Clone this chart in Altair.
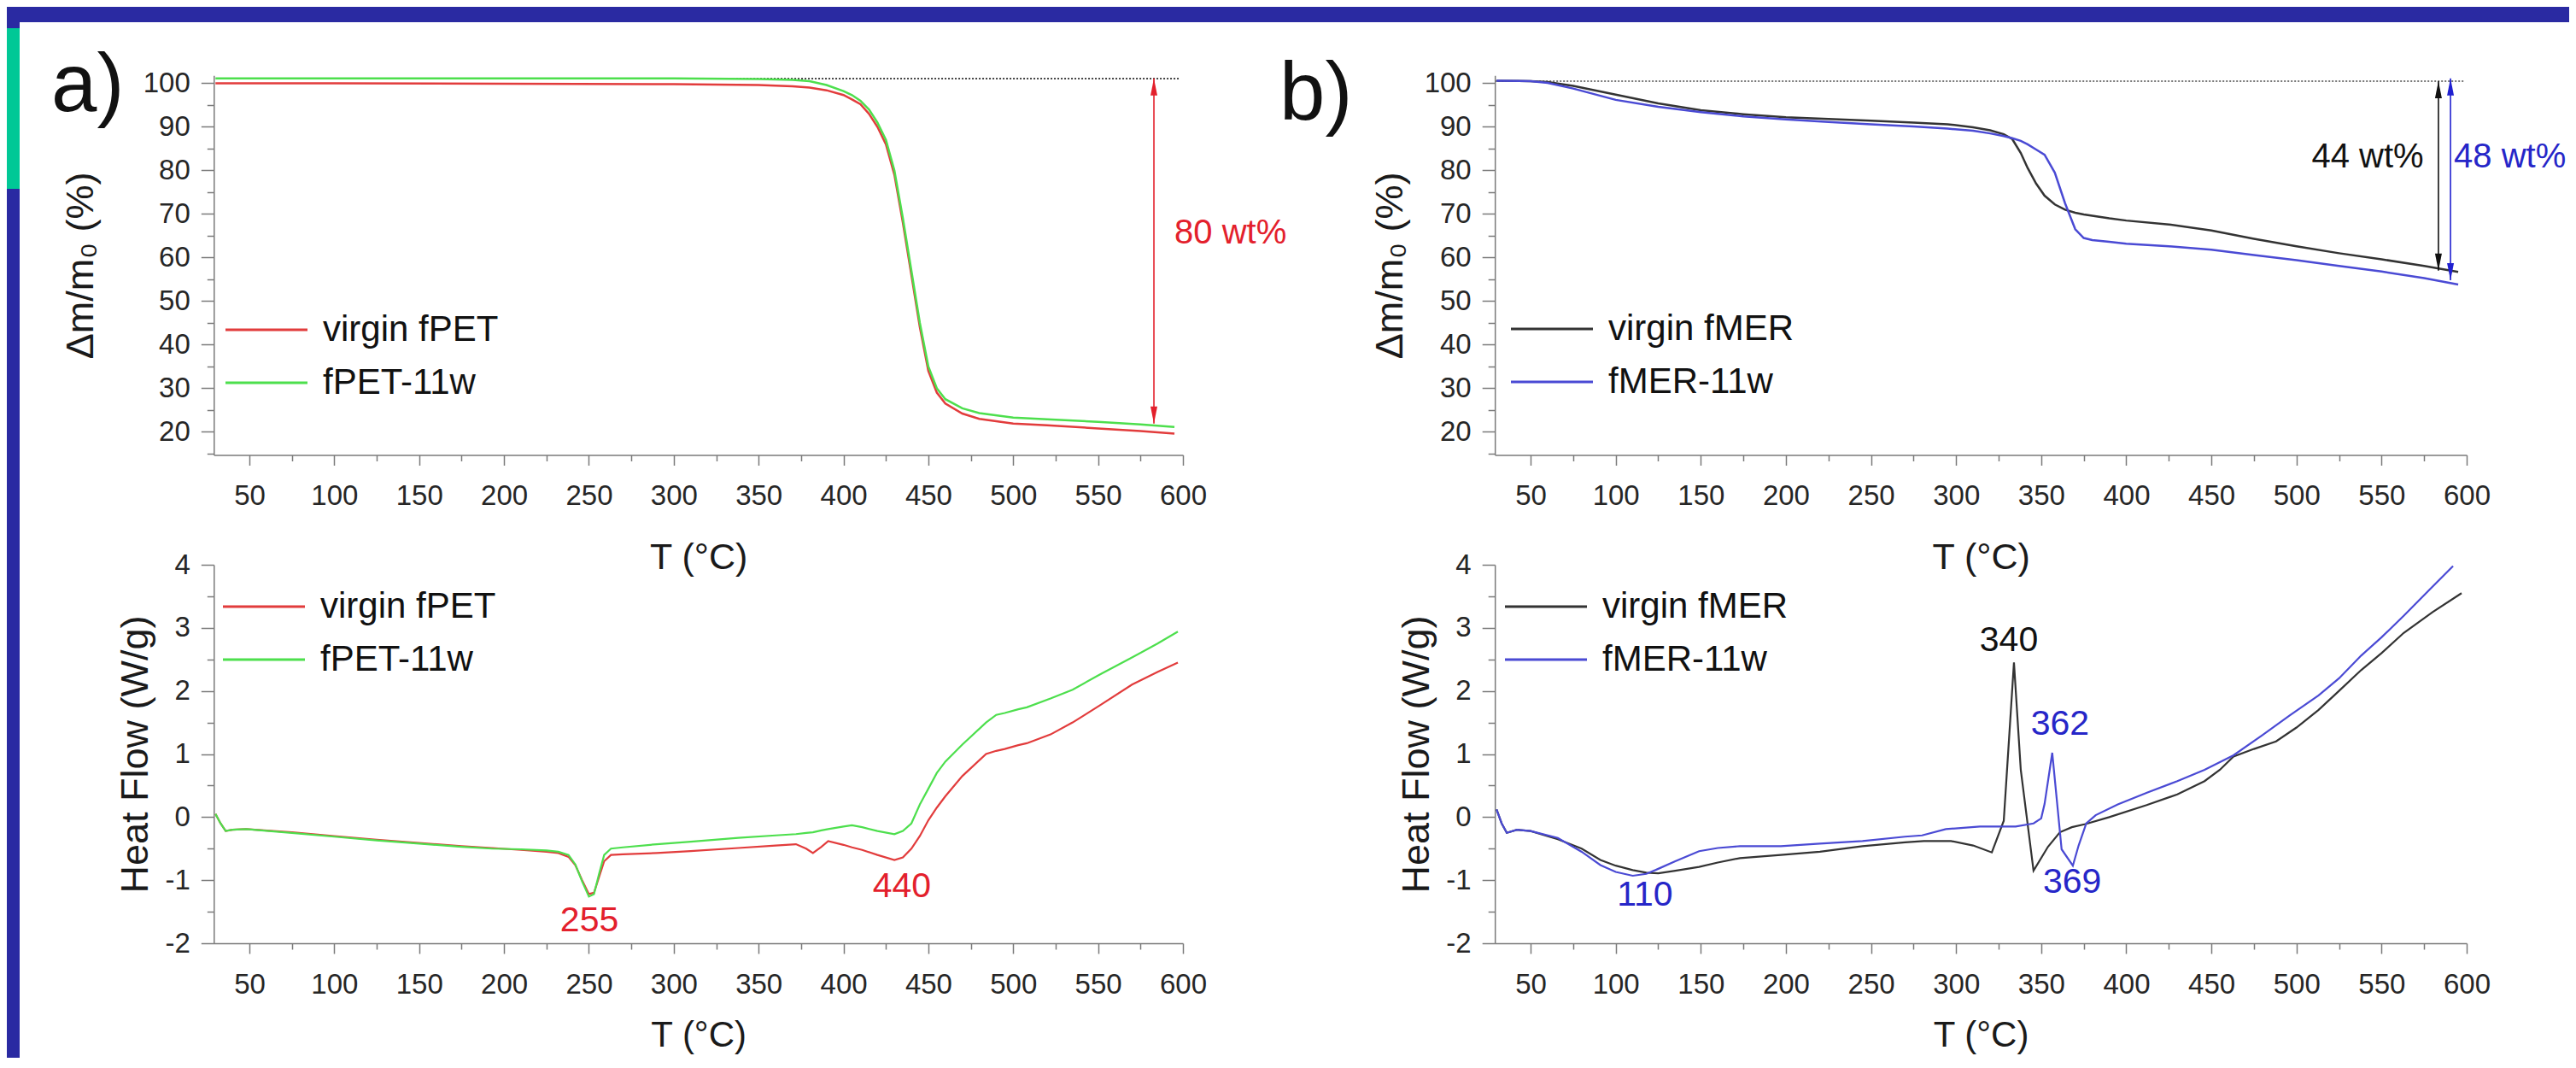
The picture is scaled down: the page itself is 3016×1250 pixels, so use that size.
import altair as alt
import pandas as pd

FONT = "Liberation Sans"
W, H = 3000, 1230

# ---------------- data ----------------
SERIES_PET = ["virgin fPET", "fPET-11w"]
SERIES_MER = ["virgin fMER", "fMER-11w"]

# a) top: TGA fPET
TGA_PET_T = [30, 100, 200, 300, 350, 370, 380, 390, 400, 405, 410, 415, 420, 425, 430, 435, 440, 445,
             450, 455, 460, 470, 480, 500, 520, 550, 575, 595]
TGA_PET_VIRGIN = [100.0, 100.0, 99.9, 99.8, 99.6, 99.3, 99.0, 98.4, 97.3, 96.3, 95.2, 93.0, 90.0, 86.0,
                  79.0, 68.0, 56.0, 44.0, 34.0, 29.0, 26.5, 24.2, 23.0, 21.9, 21.5, 20.8, 20.2, 19.6]
TGA_PET_11W = [101.1, 101.1, 101.1, 101.1, 101.0, 100.8, 100.5, 99.6, 98.2, 97.3, 96.0, 94.0, 91.0, 87.0,
               80.0, 69.0, 57.0, 45.0, 35.0, 30.0, 27.5, 25.4, 24.3, 23.3, 22.9, 22.3, 21.7, 21.1]

# b) top: TGA fMER
TGA_MER_T = [30, 50, 60, 75, 100, 125, 150, 175, 200, 225, 250, 275, 295, 310, 320, 328, 333, 338, 342,
             347, 352, 358, 364, 370, 375, 380, 390, 400, 425, 450, 475, 500, 525, 550, 575, 595]
TGA_MER_VIRGIN = [100.6, 100.5, 100.3, 99.4, 97.4, 95.4, 93.8, 92.9, 92.2, 91.8, 91.4, 91.0, 90.6, 89.9,
                  89.2, 88.3, 87.2, 84.0, 80.6, 77.0, 74.2, 72.2, 71.0, 70.3, 69.9, 69.6, 69.0, 68.5,
                  67.6, 66.2, 64.3, 62.6, 61.0, 59.6, 58.1, 56.7]
TGA_MER_11W = [100.6, 100.5, 100.1, 98.8, 96.2, 94.6, 93.4, 92.4, 91.7, 91.1, 90.6, 90.1, 89.6, 89.1,
               88.5, 87.9, 87.4, 86.8, 86.0, 84.8, 83.6, 79.5, 72.5, 66.5, 64.5, 64.0, 63.6, 63.2,
               62.6, 61.8, 60.6, 59.4, 58.1, 56.8, 55.3, 53.8]

# a) bottom: DSC fPET
DSC_PET_T = [30, 33, 36, 40, 48, 75, 100, 125, 150, 175, 193, 210, 225, 232, 238, 242, 246, 250, 253, 256,
             259, 263, 270, 290, 310, 338, 360, 372, 378, 382, 387, 391, 400, 405, 411, 420, 430, 435, 440,
             445, 450, 455, 460, 470, 484, 490, 495, 503, 508, 522, 535, 551, 570, 585, 597]
DSC_PET_VIRGIN = [0.05, -0.10, -0.22, -0.20, -0.19, -0.24, -0.30, -0.36, -0.41, -0.46,
                  -0.49, -0.52, -0.55, -0.57, -0.63, -0.76, -1.00, -1.22, -1.20, -0.95,
                  -0.70, -0.60, -0.59, -0.57, -0.54, -0.49, -0.45, -0.43, -0.50, -0.57,
                  -0.47, -0.38, -0.44, -0.48, -0.52, -0.60, -0.68, -0.64, -0.50, -0.30,
                  -0.05, 0.15, 0.33, 0.65, 1.00, 1.05, 1.08, 1.14, 1.17, 1.31,
                  1.50, 1.77, 2.10, 2.30, 2.45]
DSC_PET_11W = [0.05, -0.10, -0.22, -0.20, -0.19, -0.25, -0.31, -0.37, -0.42, -0.47,
               -0.50, -0.51, -0.53, -0.55, -0.60, -0.75, -1.02, -1.26, -1.22, -0.90,
               -0.60, -0.50, -0.48, -0.43, -0.39, -0.33, -0.29, -0.27, -0.25, -0.24,
               -0.21, -0.19, -0.15, -0.13, -0.16, -0.22, -0.27, -0.22, -0.10, 0.20,
               0.45, 0.70, 0.88, 1.15, 1.50, 1.62, 1.65, 1.71, 1.74, 1.88,
               2.02, 2.26, 2.53, 2.75, 2.94]

# b) bottom: DSC fMER
DSC_MER_VIRGIN_T = [30, 33, 36, 42, 50, 66, 80, 91, 100, 110, 118, 125, 135, 149, 160, 173, 197, 220, 245,
                    270, 281, 297, 310, 321, 328, 334, 338, 345.5, 354, 361, 368, 376, 390, 412, 430, 446,
                    455, 463, 475, 488, 500, 513, 525, 538, 550, 563, 580, 597]
DSC_MER_VIRGIN = [0.12, -0.10, -0.25, -0.20, -0.22, -0.35, -0.50, -0.68, -0.77, -0.84,
                  -0.88, -0.89, -0.85, -0.79, -0.72, -0.65, -0.60, -0.55, -0.46, -0.40,
                  -0.38, -0.38, -0.45, -0.56, -0.06, 2.45, 0.75, -0.85, -0.47, -0.24,
                  -0.16, -0.11, 0.00, 0.19, 0.36, 0.57, 0.75, 0.96, 1.08, 1.20,
                  1.42, 1.70, 2.00, 2.33, 2.60, 2.92, 3.25, 3.55]
DSC_MER_11W_T = [30, 33, 36, 42, 50, 66, 80, 91, 100, 110, 118, 125, 135, 149, 160, 173, 197, 220, 245,
                 270, 280, 294, 314, 335, 345.5, 350, 352, 356.5, 362, 368.6, 372, 376.5, 382, 395, 412.5,
                 430, 446, 463, 480, 496, 513, 525, 538, 550, 563, 578, 592]
DSC_MER_11W = [0.12, -0.10, -0.25, -0.20, -0.22, -0.33, -0.55, -0.76, -0.87, -0.93,
               -0.90, -0.82, -0.70, -0.54, -0.49, -0.46, -0.46, -0.42, -0.38, -0.31,
               -0.29, -0.19, -0.15, -0.15, -0.10, -0.02, 0.21, 1.02, -0.51, -0.77,
               -0.45, -0.10, 0.03, 0.20, 0.39, 0.57, 0.75, 0.98, 1.30, 1.61,
               1.93, 2.20, 2.56, 2.85, 3.19, 3.60, 3.98]

# axis ticks (major = labelled, minor = unlabelled)
X_MAJOR = list(range(50, 601, 50))
X_MINOR = list(range(75, 576, 50))
Y_MAJOR_TGA = list(range(20, 101, 10))
Y_MINOR_TGA = list(range(15, 96, 10))
Y_MAJOR_DSC = [-2, -1, 0, 1, 2, 3, 4]
Y_MINOR_DSC = [-1.5, -0.5, 0.5, 1.5, 2.5, 3.5]
X_DOMAIN = [29, 600]
Y_DOMAIN_TGA = [14.7, 101.8]
Y_DOMAIN_DSC = [-2, 4]

# annotations (data coordinates)
REF_A = {"T": [328.8], "T2": [597.5], "v": [101.05]}
ARROW_A = {"T": [582.9], "top": [101.1], "bot": [21.9]}
TEXT_A_TOP = {"T": [595.0], "v": [65.6], "label": ["80 wt%"]}

REF_B = {"T": [29.0], "T2": [599.0], "v": [100.5]}
ARROW_B_BLACK = {"T": [583.4], "top": [100.5], "bot": [57.0]}
ARROW_B_BLUE = {"T": [590.5], "top": [101.1], "bot": [54.8]}
TEXT_B_BLACK = {"T": [541.8], "v": [83.0], "label": ["44 wt%"]}
TEXT_B_BLUE = {"T": [592.5], "v": [83.0], "label": ["48 wt%"]}

PEAKS_A = {"T": [250.3, 434.4], "v": [-1.65, -1.11], "label": ["255", "440"]}
PEAKS_B_BLACK = {"T": [331.0], "v": [2.79], "label": ["340"]}
PEAKS_B_BLUE = {"T": [361.1, 368.2, 117.2], "v": [1.47, -1.04, -1.24], "label": ["362", "369", "110"]}

# ---------------- layout / style ----------------
XR_A = [242.3, 1377]
XR_B = [1742.2, 2880]
YR_TOP = [524.5, 80.3]
YR_BOT = [1096, 653]

RED = "#e23c3c"
GREEN = "#4ddf4d"
BLACK = "#333333"
BLUE = "#4a4ad4"
RED_TXT = "#e3202c"
BLUE_TXT = "#2626c8"
AX_COLOR = "#7a7a7a"
NAVY = "#2a2aa2"
TEAL = "#00c896"

LEGEND_LINE = "M-4,0L4,0"   # horizontal line sample, 4*sqrt(size) px long


def long_df(pairs):
    rows = []
    for name, ts, vs in pairs:
        for t, v in zip(ts, vs):
            rows.append({"series": name, "T": t, "v": v})
    return pd.DataFrame(rows)


def x_axis(y_px, tp, tsize):
    return alt.Axis(orient="bottom", offset=y_px - H, title="T (°C)", values=X_MAJOR,
                    tickSize=12, labelPadding=20, titlePadding=tp, labelFontSize=33, titleFontSize=tsize,
                    labelFlush=False, labelOverlap=False, grid=False)


def x_axis_minor(y_px):
    return alt.Axis(orient="bottom", offset=y_px - H, title=None, values=X_MINOR, tickSize=7,
                    labels=False, domain=False, grid=False)


def y_axis(x_px, ticks, title, tp):
    return alt.Axis(orient="left", offset=-x_px, title=title, values=ticks,
                    labelExpr="'' + datum.value", tickSize=15,
                    labelPadding=13, titlePadding=tp, labelFontSize=33, titleFontSize=45,
                    labelFlush=False, labelOverlap=False, grid=False)


def y_axis_minor(x_px, ticks):
    return alt.Axis(orient="left", offset=-x_px, title=None, values=ticks, tickSize=8,
                    labels=False, domain=False, grid=False)


def legend(x, y):
    return alt.Legend(orient="none", legendX=x, legendY=y, title=None, symbolType=LEGEND_LINE,
                      symbolSize=576, symbolStrokeWidth=3, symbolFillColor="transparent",
                      labelFont=FONT, labelFontSize=42, labelColor="#111111", labelOffset=45,
                      rowPadding=20, padding=0, offset=0, labelLimit=0)


def scale(domain, rng):
    return alt.Scale(domain=domain, range=rng, nice=False, zero=False)


def rule_h(d, xs, ys, color, dash, width):
    return alt.Chart(pd.DataFrame(d)).mark_rule(color=color, strokeDash=dash, strokeWidth=width).encode(
        x=alt.X("T:Q", scale=xs, axis=None), x2="T2:Q", y=alt.Y("v:Q", scale=ys, axis=None))


def arrow(d, xs, ys, color):
    df = pd.DataFrame(d)
    shaft = alt.Chart(df).mark_rule(color=color, strokeWidth=1.6).encode(
        x=alt.X("T:Q", scale=xs, axis=None), y=alt.Y("top:Q", scale=ys, axis=None), y2="bot:Q")
    up = alt.Chart(df).mark_point(shape="M0,0L-0.4,2L0.4,2Z", filled=True, size=400, opacity=1,
                                  color=color).encode(
        x=alt.X("T:Q", scale=xs, axis=None), y=alt.Y("top:Q", scale=ys, axis=None))
    down = alt.Chart(df).mark_point(shape="M0,0L-0.4,-2L0.4,-2Z", filled=True, size=400, opacity=1,
                                    color=color).encode(
        x=alt.X("T:Q", scale=xs, axis=None), y=alt.Y("bot:Q", scale=ys, axis=None))
    return [shaft, up, down]


def texts(d, xs, ys, color, align, size=40):
    return alt.Chart(pd.DataFrame(d)).mark_text(font=FONT, fontSize=size, color=color, align=align,
                                                baseline="middle").encode(
        x=alt.X("T:Q", scale=xs, axis=None), y=alt.Y("v:Q", scale=ys, axis=None), text="label:N")


def lines(df, xs, ys, xax, yax, domain, colors, leg, width=2.5):
    return alt.Chart(df).mark_line(strokeWidth=width).encode(
        x=alt.X("T:Q", scale=xs, axis=xax),
        y=alt.Y("v:Q", scale=ys, axis=yax),
        color=alt.Color("series:N", scale=alt.Scale(domain=domain, range=colors), legend=leg),
    )


def minor_ticks(df, xs, ys, x_px, y_px, yminor):
    return alt.Chart(df).mark_line(opacity=0).encode(
        x=alt.X("T:Q", scale=xs, axis=x_axis_minor(y_px)),
        y=alt.Y("v:Q", scale=ys, axis=y_axis_minor(x_px, yminor)),
        detail="series:N",
    )


# ---------------- panels ----------------
xa = scale(X_DOMAIN, XR_A)
xb = scale(X_DOMAIN, XR_B)
yt = scale(Y_DOMAIN_TGA, YR_TOP)
yb = scale(Y_DOMAIN_DSC, YR_BOT)

df_a_top = long_df([(SERIES_PET[0], TGA_PET_T, TGA_PET_VIRGIN), (SERIES_PET[1], TGA_PET_T, TGA_PET_11W)])
panel_a_top = alt.layer(
    minor_ticks(df_a_top, xa, yt, XR_A[0], YR_TOP[0], Y_MINOR_TGA),
    rule_h(REF_A, xa, yt, "#444444", [2, 2], 2),
    lines(df_a_top, xa, yt, x_axis(YR_TOP[0], 34, 43), y_axis(XR_A[0], Y_MAJOR_TGA, "Δm/m₀ (%)", 50),
          SERIES_PET, [RED, GREEN], legend(283, 357)),
    *arrow(ARROW_A, xa, yt, RED_TXT),
    texts(TEXT_A_TOP, xa, yt, RED_TXT, "left"),
).resolve_axis(x="independent", y="independent")

df_b_top = long_df([(SERIES_MER[0], TGA_MER_T, TGA_MER_VIRGIN), (SERIES_MER[1], TGA_MER_T, TGA_MER_11W)])
panel_b_top = alt.layer(
    minor_ticks(df_b_top, xb, yt, XR_B[0], YR_TOP[0], Y_MINOR_TGA),
    rule_h(REF_B, xb, yt, "#777777", [2, 2], 2),
    lines(df_b_top, xb, yt, x_axis(YR_TOP[0], 34, 43), y_axis(XR_B[0], Y_MAJOR_TGA, "Δm/m₀ (%)", 17),
          SERIES_MER, [BLACK, BLUE], legend(1788, 356)),
    *arrow(ARROW_B_BLACK, xb, yt, "#111111"),
    *arrow(ARROW_B_BLUE, xb, yt, "#2020d0"),
    texts(TEXT_B_BLACK, xb, yt, "#111111", "center"),
    texts(TEXT_B_BLUE, xb, yt, BLUE_TXT, "left"),
).resolve_axis(x="independent", y="independent")

df_a_bot = long_df([(SERIES_PET[0], DSC_PET_T, DSC_PET_VIRGIN), (SERIES_PET[1], DSC_PET_T, DSC_PET_11W)])
panel_a_bot = alt.layer(
    minor_ticks(df_a_bot, xa, yb, XR_A[0], YR_BOT[0], Y_MINOR_DSC),
    lines(df_a_bot, xa, yb, x_axis(YR_BOT[0], 22, 42), y_axis(XR_A[0], Y_MAJOR_DSC, "Heat Flow (W/g)", 11),
          SERIES_PET, [RED, GREEN], legend(280, 681), width=2.2),
    texts(PEAKS_A, xa, yb, RED_TXT, "center", 41),
).resolve_axis(x="independent", y="independent")

df_b_bot = long_df([(SERIES_MER[0], DSC_MER_VIRGIN_T, DSC_MER_VIRGIN),
                    (SERIES_MER[1], DSC_MER_11W_T, DSC_MER_11W)])
panel_b_bot = alt.layer(
    minor_ticks(df_b_bot, xb, yb, XR_B[0], YR_BOT[0], Y_MINOR_DSC),
    lines(df_b_bot, xb, yb, x_axis(YR_BOT[0], 22, 42), y_axis(XR_B[0], Y_MAJOR_DSC, "Heat Flow (W/g)", 11),
          SERIES_MER, [BLACK, BLUE], legend(1781, 681), width=2.2),
    texts(PEAKS_B_BLACK, xb, yb, "#111111", "center", 41),
    texts(PEAKS_B_BLUE, xb, yb, BLUE_TXT, "center", 41),
).resolve_axis(x="independent", y="independent")

# ---------------- slide decorations ----------------
one = pd.DataFrame({"k": [1]})
bg_top = alt.Chart(one).mark_rect(color=NAVY).encode(
    x=alt.value(0), x2=alt.value(W), y=alt.value(0), y2=alt.value(18))
bg_left = alt.Chart(one).mark_rect(color=NAVY).encode(
    x=alt.value(0), x2=alt.value(15), y=alt.value(0), y2=alt.value(H))
bg_teal = alt.Chart(one).mark_rect(color=TEAL).encode(
    x=alt.value(0), x2=alt.value(15), y=alt.value(25), y2=alt.value(213))
lab_a = alt.Chart(pd.DataFrame({"t": ["a)"]})).mark_text(
    font=FONT, fontSize=96, align="left", baseline="alphabetic", color="#111111").encode(
    x=alt.value(52), y=alt.value(122), text="t:N")
lab_b = alt.Chart(pd.DataFrame({"t": ["b)"]})).mark_text(
    font=FONT, fontSize=96, align="left", baseline="alphabetic", color="#111111").encode(
    x=alt.value(1490), y=alt.value(132), text="t:N")

chart = alt.layer(
    bg_top, bg_left, bg_teal, lab_a, lab_b,
    panel_a_top, panel_b_top, panel_a_bot, panel_b_bot,
).resolve_scale(
    x="independent", y="independent", color="independent"
).resolve_axis(
    x="independent", y="independent"
).resolve_legend(
    color="independent"
).properties(
    width=W, height=H, autosize=alt.AutoSizeParams(type="none"), padding=0, background="white"
).configure_view(
    stroke=None
).configure_axis(
    labelFont=FONT, titleFont=FONT, labelColor="#262626", titleColor="#1a1a1a",
    titleFontWeight="normal", domainColor=AX_COLOR, tickColor=AX_COLOR, domainWidth=1.5,
    tickWidth=1.5, grid=False
)

chart.save("out.html", embed_options={"renderer": "svg", "actions": False})
